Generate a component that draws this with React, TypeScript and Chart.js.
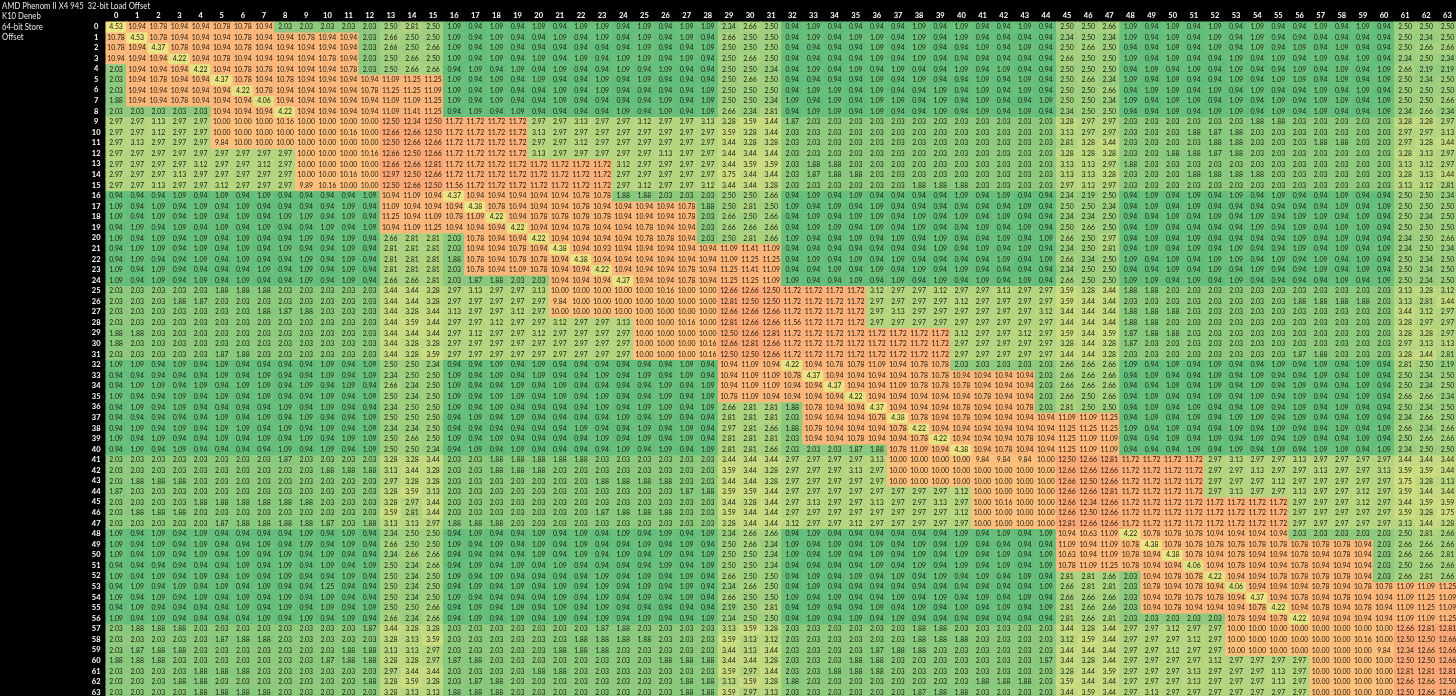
import React, { useEffect, useRef } from "react";
import { Chart, registerables } from "chart.js";

Chart.register(...registerables);

const headerLines = ["AMD Phenom II X4 945  32-bit Load Offset", "K10 Deneb", "64-bit Store", "Offset"];

const r0 = [4.53,10.94,10.78,10.94,10.94,10.78,10.78,10.94,2.03,2.03,2.03,2.03,2.03,2.50,2.81,2.50,1.09,0.94,1.09,0.94,1.09,0.94,1.09,1.09,0.94,1.09,0.94,1.09,1.09,2.34,2.66,2.50,0.94,1.09,0.94,0.94,0.94,0.94,1.09,0.94,1.09,0.94,0.94,1.09,0.94,2.50,2.50,2.66,1.09,0.94,1.09,0.94,1.09,0.94,1.09,0.94,0.94,1.09,0.94,1.09,0.94,2.50,2.50,2.50];
const r1 = [10.78,4.53,10.78,10.94,10.94,10.94,10.78,10.94,10.94,10.78,10.94,10.94,2.03,2.66,2.50,2.50,1.09,0.94,1.09,0.94,0.94,1.09,0.94,1.09,0.94,1.09,0.94,1.09,0.94,2.66,2.50,2.50,0.94,1.09,0.94,1.09,1.09,0.94,1.09,0.94,1.09,0.94,0.94,0.94,0.94,2.34,2.50,2.34,1.09,0.94,1.09,0.94,1.09,0.94,1.09,0.94,0.94,0.94,0.94,0.94,0.94,2.50,2.34,2.50];
const r2 = [10.78,10.94,4.37,10.78,10.94,10.94,10.78,10.94,10.94,10.94,10.94,10.94,2.03,2.66,2.50,2.66,1.09,0.94,1.09,0.94,0.94,0.94,0.94,0.94,0.94,1.09,0.94,0.94,1.09,2.50,2.50,2.50,0.94,0.94,0.94,0.94,1.09,0.94,1.09,0.94,0.94,1.09,0.94,1.09,0.94,2.50,2.66,2.50,0.94,0.94,1.09,0.94,1.09,0.94,1.09,0.94,1.09,0.94,1.09,0.94,0.94,2.50,2.66,2.66];
const r3 = [10.94,10.94,10.94,4.22,10.94,10.78,10.94,10.94,10.94,10.94,10.78,10.94,2.03,2.50,2.66,2.50,1.09,0.94,1.09,0.94,1.09,0.94,1.09,0.94,1.09,1.09,0.94,1.09,0.94,2.50,2.66,2.50,0.94,0.94,0.94,0.94,1.09,0.94,1.09,0.94,0.94,0.94,0.94,0.94,0.94,2.66,2.50,2.50,1.09,0.94,1.09,0.94,0.94,1.09,0.94,1.09,0.94,1.09,0.94,1.09,0.94,2.34,2.50,2.34];
const r4 = [2.03,10.94,10.94,10.94,4.22,10.94,10.78,10.78,10.94,10.94,10.94,10.78,2.03,2.50,2.66,2.66,0.94,1.09,0.94,1.09,0.94,1.09,0.94,0.94,1.09,0.94,1.09,0.94,0.94,2.50,2.50,2.34,0.94,1.09,0.94,1.09,0.94,1.09,0.94,0.94,1.09,0.94,1.09,0.94,0.94,2.50,2.50,2.50,0.94,1.09,0.94,1.09,0.94,1.09,0.94,0.94,1.09,0.94,1.09,0.94,1.09,2.66,2.19,2.19];
const r5 = [2.03,10.94,10.78,10.94,10.94,4.37,10.78,10.94,10.78,10.94,10.94,10.94,10.94,11.09,11.25,11.25,1.09,0.94,1.09,0.94,1.09,0.94,0.94,1.09,0.94,1.09,0.94,0.94,0.94,2.50,2.66,2.50,0.94,0.94,0.94,0.94,1.09,0.94,1.09,0.94,0.94,1.09,0.94,1.09,0.94,2.50,2.66,2.34,1.09,0.94,1.09,0.94,0.94,1.09,0.94,1.09,1.09,0.94,1.09,0.94,1.09,2.50,2.34,2.50];
const r6 = [2.03,10.94,10.94,10.94,10.94,10.94,4.22,10.78,10.94,10.94,10.94,10.94,10.78,11.25,11.25,11.09,1.09,0.94,1.09,0.94,0.94,1.09,0.94,1.09,0.94,0.94,0.94,0.94,1.09,2.50,2.50,2.50,0.94,1.09,1.09,0.94,1.09,0.94,0.94,1.09,0.94,1.09,0.94,1.09,0.94,2.50,2.50,2.66,0.94,1.09,1.09,0.94,1.09,0.94,1.09,0.94,0.94,1.09,0.94,1.09,0.94,2.50,2.50,2.50];
const r7 = [1.88,10.94,10.94,10.78,10.94,10.94,10.94,4.06,10.94,10.94,10.94,10.94,10.94,11.09,11.09,11.25,1.09,0.94,1.09,0.94,0.94,1.09,0.94,0.94,0.94,0.94,1.09,0.94,1.09,2.50,2.50,2.34,1.09,0.94,1.09,0.94,1.09,1.09,0.94,1.09,0.94,1.09,0.94,0.94,1.09,2.50,2.50,2.34,1.09,0.94,1.09,1.09,0.94,1.09,0.94,1.09,0.94,1.09,1.09,0.94,1.09,2.50,2.50,2.66];
const r8 = [2.03,2.03,2.03,2.03,2.03,10.94,10.94,10.94,4.22,10.94,10.94,10.94,10.94,11.09,11.41,11.25,0.94,1.09,0.94,1.09,0.94,0.94,0.94,0.94,1.09,0.94,1.09,0.94,1.09,2.66,2.34,2.81,0.94,1.09,1.09,0.94,1.09,0.94,0.94,1.09,0.94,1.09,0.94,1.09,0.94,2.34,2.50,2.50,0.94,0.94,1.09,0.94,1.09,1.09,0.94,1.09,0.94,1.09,0.94,0.94,1.09,2.34,2.66,2.34];
const r9 = [2.97,2.97,3.13,2.97,2.97,10.00,10.00,10.00,10.16,10.00,10.00,10.00,10.00,12.50,12.34,12.50,11.72,11.72,11.72,11.72,2.97,2.97,3.13,2.97,2.97,3.12,2.97,2.97,3.13,3.28,3.59,3.44,1.87,2.03,2.03,2.03,2.03,2.03,2.03,2.03,2.03,2.03,2.03,2.03,2.03,3.28,2.97,2.97,2.03,2.03,2.03,2.03,2.03,2.03,1.88,1.88,2.03,2.03,2.03,2.03,2.03,3.28,3.28,2.97];
const r10 = [2.97,2.97,3.12,2.97,2.97,10.00,10.00,10.00,10.00,10.00,10.00,10.16,10.00,12.66,12.66,12.50,11.72,11.72,11.72,11.72,3.13,2.97,2.97,2.97,2.97,2.97,2.97,2.97,2.97,3.59,3.28,3.44,2.03,2.03,2.03,2.03,2.03,2.03,2.03,2.03,2.03,2.03,2.03,2.03,2.03,3.13,2.97,2.97,2.03,2.03,2.03,1.88,1.87,1.88,2.03,2.03,2.03,2.03,2.03,2.03,2.03,2.97,2.97,3.13];
const r11 = [2.97,3.13,2.97,2.97,2.97,9.84,10.00,10.00,10.00,10.00,10.00,10.00,10.00,12.50,12.66,12.66,11.72,11.72,11.72,11.72,2.97,2.97,3.12,2.97,2.97,2.97,2.97,2.97,2.97,3.44,3.28,3.28,2.03,2.03,2.03,2.03,2.03,2.03,2.03,2.03,2.03,2.03,2.03,2.03,2.03,2.81,3.28,3.44,2.03,2.03,2.03,2.03,1.88,1.88,2.03,2.03,2.03,1.88,1.88,2.03,2.03,2.97,3.28,3.44];
const r12 = [2.97,2.97,2.97,2.97,2.97,2.97,2.97,2.97,2.97,10.00,10.00,10.00,10.16,12.66,12.50,12.66,11.72,11.72,11.72,11.72,3.13,2.97,2.97,2.97,2.97,2.97,3.13,2.97,2.97,3.44,3.44,3.44,2.03,2.03,2.03,2.03,2.03,2.03,2.03,2.03,2.03,2.03,2.03,2.03,2.03,3.28,3.28,3.28,2.03,2.03,1.88,1.88,1.87,1.88,2.03,2.03,2.03,2.03,2.03,2.03,2.03,3.28,3.13,2.97];
const r13 = [2.97,2.97,2.97,2.97,3.12,2.97,2.97,3.12,2.97,10.00,10.00,10.00,10.00,12.66,12.66,12.81,11.72,11.72,11.72,11.72,11.72,11.72,11.72,11.72,3.12,2.97,2.97,2.97,2.97,3.44,3.59,3.59,2.03,1.88,1.88,2.03,2.03,2.03,2.03,2.03,2.03,2.03,2.03,2.03,2.03,3.13,3.13,2.97,1.88,2.03,2.03,2.03,2.03,2.03,2.03,2.03,2.03,2.03,2.03,2.03,2.03,3.13,3.12,2.97];
const r14 = [2.97,2.97,2.97,3.13,2.97,2.97,2.97,2.97,2.97,10.00,10.00,10.16,10.00,12.97,12.50,12.66,11.72,11.72,11.72,11.72,11.72,11.72,11.72,11.72,2.97,2.97,2.97,2.97,2.97,3.75,3.44,3.44,2.03,1.87,1.88,1.88,2.03,2.03,2.03,2.03,2.03,2.03,2.03,2.03,2.03,3.13,3.13,3.28,2.03,2.03,2.03,1.88,1.88,1.88,1.88,2.03,2.03,2.03,2.03,2.03,2.03,3.28,3.13,3.44];
const r15 = [2.97,2.97,3.13,2.97,2.97,3.12,2.97,2.97,2.97,9.89,10.16,10.00,10.00,12.50,12.66,12.50,11.56,11.72,11.72,11.72,11.72,11.72,11.72,11.72,2.97,3.12,2.97,2.97,3.12,3.44,3.44,3.28,2.03,2.03,2.03,2.03,2.03,2.03,1.88,1.88,1.88,2.03,2.03,2.03,2.03,2.97,3.13,2.97,2.03,2.03,2.03,2.03,2.03,2.03,2.03,2.03,2.03,2.03,2.03,2.03,2.03,3.13,3.12,2.81];
const r16 = [0.94,0.94,0.94,1.09,0.94,1.09,0.94,1.09,0.94,0.94,0.94,0.94,1.09,10.94,11.09,10.94,4.37,10.94,10.94,10.94,10.94,10.94,10.78,10.78,1.88,1.88,2.03,2.03,2.03,2.50,2.50,2.66,0.94,1.09,0.94,1.09,0.94,0.94,0.94,0.94,1.09,0.94,1.09,0.94,0.94,2.34,2.19,2.50,0.94,1.09,0.94,1.09,0.94,1.09,0.94,1.09,0.94,0.94,1.09,0.94,0.94,2.50,2.50,2.34];
const r17 = [1.09,0.94,1.09,0.94,1.09,0.94,1.09,0.94,0.94,0.94,0.94,1.09,0.94,11.09,10.94,10.94,10.94,4.38,10.78,10.94,10.94,10.94,10.78,10.94,10.94,10.94,10.94,10.78,1.88,2.50,2.81,2.50,1.09,0.94,1.09,0.94,1.09,0.94,0.94,0.94,0.94,0.94,0.94,1.09,0.94,2.50,2.50,2.34,0.94,1.09,0.94,1.09,0.94,0.94,0.94,0.94,0.94,0.94,1.09,0.94,1.09,2.50,2.50,2.50];
const r18 = [1.09,0.94,1.09,0.94,1.09,0.94,1.09,0.94,1.09,1.09,0.94,1.09,0.94,11.25,10.94,11.09,10.78,11.09,4.22,10.94,10.78,10.78,10.78,10.78,10.94,10.94,10.94,10.78,2.03,2.66,2.50,2.66,0.94,1.09,0.94,1.09,1.09,0.94,1.09,0.94,1.09,0.94,1.09,0.94,0.94,2.34,2.34,2.50,0.94,0.94,1.09,0.94,1.09,0.94,1.09,0.94,1.09,1.09,0.94,1.09,0.94,2.50,2.34,2.50];
const r19 = [0.94,1.09,0.94,1.09,0.94,1.09,0.94,1.09,0.94,0.94,1.09,0.94,1.09,10.94,11.09,11.25,10.94,10.94,10.94,4.22,10.94,10.94,10.78,10.94,10.94,10.78,10.94,10.94,2.03,2.66,2.66,2.66,0.94,1.09,1.09,0.94,1.09,0.94,1.09,0.94,0.94,1.09,0.94,1.09,0.94,2.50,2.66,2.50,0.94,1.09,0.94,0.94,0.94,0.94,1.09,0.94,1.09,0.94,1.09,1.09,0.94,2.50,2.50,2.50];
const r20 = [1.09,0.94,1.09,0.94,1.09,0.94,1.09,0.94,0.94,1.09,0.94,1.09,0.94,2.66,2.81,2.81,2.03,10.78,10.94,10.94,4.22,10.94,10.94,10.94,10.94,10.78,10.78,10.94,2.03,2.50,2.81,2.66,1.09,0.94,0.94,1.09,0.94,1.09,0.94,1.09,0.94,0.94,1.09,0.94,1.09,2.66,2.50,2.97,0.94,1.09,0.94,1.09,0.94,0.94,0.94,0.94,1.09,0.94,1.09,0.94,0.94,2.34,2.50,2.66];
const r21 = [0.94,1.09,1.09,0.94,1.09,0.94,1.09,0.94,1.09,0.94,0.94,1.09,0.94,2.81,2.81,2.81,2.03,10.94,10.94,10.78,10.94,4.38,10.94,10.93,10.94,10.94,10.94,10.94,10.94,11.09,11.41,11.09,0.94,0.94,0.94,0.94,0.94,0.94,0.94,1.09,0.94,1.09,0.94,1.09,0.94,2.34,2.50,2.81,0.94,1.09,0.94,1.09,0.94,1.09,0.94,0.94,1.09,0.94,1.09,0.94,1.09,2.34,2.50,2.34];
const r22 = [0.94,1.09,0.94,0.94,1.09,0.94,1.09,0.94,0.94,1.09,0.94,1.09,0.94,2.81,2.81,2.81,1.88,10.78,10.94,10.78,10.78,10.94,4.38,10.94,10.94,10.94,10.94,10.94,10.94,11.09,11.25,11.25,0.94,1.09,0.94,1.09,0.94,1.09,0.94,0.94,0.94,0.94,1.09,0.94,1.09,2.66,2.34,2.50,1.09,0.94,1.09,0.94,1.09,1.09,0.94,1.09,0.94,1.09,0.94,1.09,0.94,2.50,2.34,2.50];
const r23 = [1.09,0.94,1.09,0.94,0.94,0.94,0.94,1.09,0.94,1.09,0.94,1.09,0.94,2.81,2.81,2.81,2.03,10.78,10.94,11.09,10.78,10.94,10.94,4.22,10.94,10.94,10.94,10.78,10.94,11.25,11.41,11.09,0.94,0.94,1.09,0.94,1.09,0.94,1.09,0.94,1.09,0.94,0.94,0.94,0.94,2.34,2.50,2.50,0.94,0.94,1.09,0.94,1.09,0.94,1.09,0.94,0.94,1.09,0.94,1.09,0.94,2.50,2.34,2.50];
const r24 = [1.09,0.94,1.09,0.94,1.09,0.94,1.09,0.94,0.94,1.09,0.94,1.09,0.94,2.66,2.66,2.81,2.03,1.87,1.88,2.03,2.03,10.94,10.94,10.94,4.37,10.94,10.94,10.78,10.94,11.25,11.25,11.09,1.09,0.94,0.94,1.09,0.94,1.09,0.94,1.09,0.94,1.09,0.94,1.09,0.94,2.66,2.50,2.50,1.09,1.09,0.94,1.09,0.94,1.09,0.94,0.94,0.94,0.94,1.09,0.94,1.09,2.50,2.34,2.50];
const r25 = [2.03,2.03,2.03,2.03,2.03,1.88,1.88,1.88,2.03,2.03,2.03,2.03,2.03,3.44,3.44,3.28,2.97,3.13,2.97,2.97,3.13,10.00,10.00,10.00,10.00,10.00,10.16,10.00,10.00,12.66,12.66,12.50,11.72,11.72,11.72,11.72,3.12,2.97,2.97,3.12,2.97,2.97,3.13,2.97,2.97,3.59,3.28,3.44,1.88,1.88,2.03,2.03,2.03,2.03,2.03,2.03,2.03,2.03,2.03,2.03,2.03,3.13,3.28,3.12];
const r26 = [2.03,2.03,2.03,1.88,1.87,2.03,2.03,2.03,2.03,2.03,2.03,2.03,2.03,3.44,3.44,3.28,2.97,2.97,2.97,2.97,2.97,9.84,10.00,10.00,10.00,10.00,10.00,10.00,10.00,12.81,12.50,12.50,11.72,11.72,11.72,11.72,2.97,2.97,2.97,2.97,3.12,2.97,2.97,2.97,2.97,3.59,3.44,3.44,2.03,2.03,2.03,2.03,2.03,2.03,2.03,2.03,1.88,1.88,1.88,1.88,2.03,3.13,2.81,3.44];
const r27 = [2.03,2.03,2.03,2.03,2.03,2.03,2.03,1.88,1.87,1.88,2.03,2.03,2.03,3.44,3.28,3.44,3.13,2.97,2.97,3.12,2.97,10.00,10.00,10.00,10.00,10.00,10.00,10.00,10.00,12.66,12.66,12.66,11.72,11.72,11.72,11.72,2.97,3.13,2.97,2.97,2.97,2.97,2.97,2.97,3.12,3.44,3.44,3.44,1.88,1.88,1.88,2.03,2.03,2.03,2.03,2.03,2.03,2.03,2.03,2.03,2.03,3.44,3.12,2.97];
const r28 = [2.03,2.03,2.03,2.03,2.03,2.03,2.03,2.03,2.03,2.03,2.03,2.03,2.03,3.44,3.59,3.44,2.97,2.97,3.12,2.97,2.97,3.12,2.97,2.97,3.13,10.00,10.00,10.16,10.00,12.81,12.66,12.66,11.56,11.72,11.72,11.72,2.97,2.97,2.97,2.97,2.97,2.97,2.97,2.97,2.97,3.44,3.44,3.44,1.88,1.88,2.03,2.03,2.03,2.03,2.03,2.03,2.03,2.03,2.03,2.03,2.03,3.28,2.97,2.97];
const r29 = [1.88,1.88,2.03,2.03,2.03,2.03,2.03,2.03,2.03,2.03,2.03,2.03,2.03,3.44,3.44,3.44,2.97,3.12,2.97,2.97,3.12,2.97,2.97,2.97,2.97,10.00,10.00,10.00,10.00,12.50,12.66,12.81,11.72,11.72,11.72,11.72,11.72,11.72,11.72,11.72,3.12,2.97,2.97,3.12,2.97,3.59,3.44,3.59,1.87,1.88,1.88,2.03,2.03,2.03,2.03,2.03,2.03,2.03,2.03,2.03,2.03,3.28,3.28,2.97];
const r30 = [1.88,2.03,2.03,2.03,2.03,2.03,2.03,2.03,2.03,2.03,2.03,2.03,2.03,3.44,3.28,3.28,2.97,2.97,2.97,2.97,2.97,2.97,2.97,2.97,2.97,10.00,10.00,10.00,10.16,12.66,12.81,12.66,11.72,11.72,11.72,11.72,11.72,11.72,11.72,11.72,2.97,2.97,2.97,2.97,2.97,3.28,3.44,3.28,1.87,2.03,2.03,2.03,2.03,2.03,2.03,2.03,2.03,2.03,2.03,2.03,2.03,2.97,3.13,3.13];
const r31 = [2.03,2.03,2.03,2.03,2.03,1.87,1.88,2.03,2.03,2.03,2.03,2.03,2.03,3.44,3.28,3.59,2.97,2.97,2.97,2.97,2.97,2.97,2.97,2.97,2.97,10.00,10.00,10.00,10.16,12.50,12.50,12.66,11.72,11.72,11.72,11.72,11.72,11.72,11.72,11.72,2.97,2.97,2.97,2.97,2.97,3.44,3.44,3.28,2.03,2.03,2.03,2.03,2.03,2.03,2.03,2.03,1.87,1.88,2.03,2.03,2.03,3.28,3.44,2.81];
const r32 = [1.09,1.09,0.94,1.09,0.94,1.09,0.94,0.94,0.94,0.94,1.09,0.94,1.09,2.50,2.50,2.34,0.94,0.94,1.09,0.94,1.09,0.94,0.94,0.94,0.94,0.94,0.94,1.09,0.94,10.94,11.09,10.94,4.22,10.94,10.78,10.78,11.09,10.94,10.78,10.78,2.03,2.03,2.03,2.03,2.03,2.66,2.66,2.66,1.09,0.94,1.09,0.94,1.09,0.94,0.94,1.09,0.94,1.09,0.94,1.09,0.94,2.81,2.50,2.19];
const r33 = [0.94,0.94,0.94,0.94,0.94,1.09,0.94,1.09,0.94,0.94,1.09,0.94,1.09,2.34,2.50,2.50,1.09,0.94,1.09,0.94,1.09,0.94,0.94,1.09,0.94,1.09,0.94,1.09,0.94,10.94,11.09,11.09,10.78,4.37,10.94,10.94,10.94,10.94,10.78,10.78,10.94,10.94,10.94,10.94,2.03,2.66,2.66,2.66,0.94,1.09,0.94,0.94,1.09,0.94,1.09,0.94,0.94,1.09,0.94,1.09,0.94,2.50,2.34,2.50];
const r34 = [0.94,1.09,1.09,0.94,1.09,0.94,1.09,1.09,0.94,1.09,0.94,1.09,0.94,2.66,2.34,2.50,1.09,0.94,0.94,1.09,0.94,1.09,0.94,0.94,0.94,0.94,1.09,0.94,1.09,10.94,11.09,11.09,10.94,10.94,4.37,10.94,10.94,11.09,10.78,10.78,10.78,10.94,10.94,10.94,2.03,2.66,2.66,2.66,0.94,0.94,1.09,0.94,1.09,0.94,1.09,0.94,1.09,0.94,0.94,1.09,0.94,2.50,2.34,2.50];
const r35 = [1.09,0.94,0.94,1.09,0.94,1.09,0.94,1.09,0.94,0.94,1.09,0.94,1.09,2.50,2.34,2.50,1.09,0.94,1.09,1.09,0.94,1.09,0.94,1.09,0.94,0.94,1.09,0.94,1.09,10.78,11.09,10.94,10.94,10.94,10.94,4.22,10.94,10.94,10.94,10.94,10.94,10.78,10.94,10.94,2.03,2.66,2.50,2.66,0.94,1.09,0.94,0.94,1.09,0.94,1.09,0.94,1.09,0.94,0.94,1.09,0.94,2.66,2.66,2.34];
const r36 = [0.94,1.09,0.94,1.09,0.94,0.94,0.94,0.94,1.09,0.94,1.09,0.94,0.94,2.34,2.50,2.50,1.09,0.94,1.09,0.94,0.94,0.94,0.94,1.09,0.94,1.09,1.09,0.94,1.09,2.66,2.81,2.81,1.88,10.78,10.94,10.94,4.37,10.94,10.94,10.94,10.78,10.94,10.94,10.78,2.03,2.81,2.50,2.50,0.94,1.09,0.94,1.09,0.94,0.94,1.09,0.94,1.09,0.94,1.09,0.94,0.94,2.50,2.34,2.50];
const r37 = [0.94,0.94,0.94,0.94,0.94,1.09,0.94,1.09,0.94,1.09,0.94,0.94,1.09,2.50,2.50,2.50,0.94,1.09,0.94,1.09,0.94,0.94,0.94,0.94,1.09,0.94,1.09,0.94,0.94,2.81,2.81,2.81,2.03,10.94,10.94,10.94,10.78,4.38,10.78,10.94,10.78,10.94,10.94,10.94,10.94,11.09,11.09,11.25,0.94,1.09,0.94,1.09,0.94,1.09,1.09,0.94,1.09,0.94,0.94,1.09,0.94,2.34,2.66,2.50];
const r38 = [0.94,1.09,0.94,1.09,0.94,1.09,1.09,0.94,1.09,0.94,1.09,0.94,1.09,2.34,2.34,2.50,0.94,0.94,0.94,0.94,0.94,0.94,1.09,0.94,0.94,1.09,0.94,1.09,0.94,2.97,2.81,2.66,1.88,10.78,10.94,10.94,10.94,10.78,4.22,10.94,10.94,10.94,10.94,10.94,10.94,11.25,11.25,11.25,1.09,0.94,1.09,0.94,0.94,1.09,0.94,1.09,0.94,0.94,1.09,0.94,1.09,2.66,2.34,2.66];
const r39 = [1.09,0.94,1.09,0.94,0.94,1.09,0.94,1.09,0.94,1.09,0.94,1.09,1.09,2.50,2.66,2.50,1.09,0.94,1.09,0.94,0.94,0.94,0.94,1.09,0.94,1.09,0.94,1.09,0.94,2.81,2.81,2.81,2.03,10.94,10.94,10.78,10.94,10.94,10.78,4.22,10.94,10.94,10.94,10.78,10.94,11.25,11.09,11.09,0.94,0.94,1.09,0.94,1.09,0.94,1.09,0.94,1.09,0.94,0.94,1.09,0.94,2.50,2.66,2.66];
const r40 = [0.94,1.09,0.94,1.09,0.94,0.94,0.94,0.94,1.09,0.94,1.09,0.94,1.09,2.50,2.50,2.34,0.94,1.09,0.94,1.09,0.94,0.94,0.94,0.94,1.09,0.94,1.09,0.94,1.09,2.81,2.81,2.66,2.03,2.03,2.03,1.87,1.88,10.78,11.09,10.94,4.38,10.94,10.78,10.94,10.94,11.25,11.09,11.09,0.94,0.94,0.94,1.09,0.94,1.09,0.94,1.09,0.94,1.09,1.09,0.94,1.09,2.34,2.50,2.50];
const r41 = [2.03,2.03,2.03,2.03,2.03,2.03,2.03,2.03,1.87,2.03,2.03,2.03,2.03,3.28,3.28,3.44,2.03,2.03,1.88,1.88,1.88,1.88,1.88,2.03,2.03,2.03,2.03,2.03,2.03,3.44,3.44,3.44,2.97,2.97,2.97,2.97,3.13,10.00,10.00,10.00,10.00,9.84,9.84,9.84,10.00,12.50,12.66,12.81,11.72,11.72,11.72,11.72,2.97,3.13,2.97,2.97,3.13,2.97,2.97,2.97,2.97,3.44,3.44,3.44];
const r42 = [2.03,2.03,2.03,2.03,2.03,2.03,2.03,2.03,2.03,2.03,1.88,1.88,1.88,3.13,3.44,3.28,2.03,2.03,1.88,1.88,1.88,2.03,2.03,2.03,2.03,2.03,2.03,2.03,2.03,3.59,3.44,3.28,2.97,2.97,2.97,3.13,2.97,10.00,10.00,10.00,10.00,10.00,10.00,10.00,10.00,12.66,12.66,12.66,11.72,11.72,11.72,11.72,2.97,2.97,3.13,2.97,2.97,3.13,2.97,2.97,3.13,3.59,3.59,3.44];
const r43 = [2.03,1.88,1.88,1.88,2.03,2.03,2.03,2.03,2.03,2.03,2.03,2.03,2.03,2.97,3.28,3.28,2.03,2.03,2.03,2.03,2.03,2.03,2.03,1.88,1.88,1.88,1.88,2.03,2.03,3.44,3.44,3.28,2.97,2.97,2.97,2.97,2.97,10.00,10.00,10.00,10.00,10.00,10.00,10.00,10.00,12.66,12.50,12.66,11.72,11.72,11.72,11.72,2.97,2.97,2.97,3.12,2.97,2.97,2.97,2.97,2.97,3.75,3.28,3.13];
const r44 = [1.87,2.03,2.03,2.03,2.03,2.03,2.03,2.03,2.03,2.03,2.03,2.03,2.03,3.28,3.59,3.13,2.03,2.03,2.03,2.03,2.03,2.03,2.03,2.03,2.03,2.03,2.03,1.87,1.88,3.59,3.59,3.44,2.97,2.97,2.97,2.97,2.97,2.97,2.97,2.97,3.12,10.00,10.00,10.00,10.00,12.66,12.66,12.81,11.72,11.72,11.72,11.72,2.97,3.13,2.97,2.97,3.13,2.97,2.97,3.12,2.97,3.59,3.44,3.44];
const r45 = [2.03,2.03,2.03,2.03,1.88,1.88,1.88,1.88,1.88,1.88,2.03,2.03,2.03,3.28,2.97,3.44,2.03,2.03,2.03,2.03,2.03,2.03,2.03,2.03,2.03,2.03,2.03,2.03,2.03,3.44,3.28,3.44,2.97,3.13,2.97,2.97,3.13,2.97,2.97,3.13,2.97,10.00,10.16,10.00,10.00,12.66,12.34,12.66,11.72,11.72,11.72,11.72,11.72,11.72,11.72,11.72,2.97,2.97,2.97,3.12,2.97,3.44,3.59,3.59];
const r46 = [2.03,1.88,1.88,1.88,2.03,2.03,2.03,2.03,2.03,2.03,2.03,2.03,2.03,3.59,2.81,3.44,2.03,2.03,2.03,2.03,2.03,2.03,2.03,1.87,1.88,1.88,1.88,2.03,2.03,3.59,3.44,3.44,2.97,2.97,2.97,2.97,2.97,2.97,2.97,2.97,3.12,10.00,10.00,10.00,10.00,12.66,12.50,12.66,11.72,11.72,11.72,11.72,11.72,11.72,11.72,11.72,2.97,2.97,2.97,2.97,2.97,3.59,3.28,3.75];
const r47 = [2.03,2.03,2.03,2.03,2.03,1.87,1.88,1.88,1.88,1.88,1.87,2.03,1.88,3.13,3.13,2.97,1.88,1.88,1.88,2.03,2.03,2.03,2.03,2.03,2.03,2.03,2.03,2.03,2.03,3.28,3.44,3.44,3.12,2.97,2.97,3.12,2.97,2.97,2.97,2.97,2.97,10.00,10.00,10.00,10.00,12.81,12.66,12.66,11.72,11.72,11.72,11.72,11.72,11.72,11.72,11.72,2.97,2.97,2.97,2.97,2.97,3.13,3.44,3.28];
const r48 = [1.09,0.94,1.09,0.94,1.09,0.94,0.94,0.94,0.94,1.09,0.94,1.09,0.94,2.34,2.50,2.50,0.94,1.09,0.94,0.94,1.09,0.94,1.09,0.94,1.09,0.94,1.09,0.94,1.09,2.34,2.66,2.66,0.94,1.09,0.94,0.94,0.94,0.94,0.94,0.94,1.09,0.94,1.09,0.94,1.09,10.94,10.63,11.09,4.22,10.78,10.78,10.78,10.94,10.94,10.94,10.94,2.03,2.03,2.03,2.03,2.03,2.50,2.81,2.66];
const r49 = [1.09,0.94,1.09,0.94,1.09,0.94,0.94,1.09,0.94,1.09,0.94,1.09,0.94,2.66,2.50,2.50,1.09,0.94,1.09,0.94,1.09,0.94,1.09,0.94,0.94,1.09,0.94,1.09,0.94,2.50,2.66,2.34,1.09,0.94,1.09,0.94,1.09,0.94,1.09,0.94,1.09,0.94,0.94,0.94,0.94,11.09,10.94,11.09,10.78,4.38,10.78,10.78,10.78,10.78,10.78,10.78,10.78,10.78,10.78,10.94,2.03,2.66,2.66,2.66];
const r50 = [1.09,0.94,1.09,0.94,1.09,0.94,1.09,0.94,1.09,0.94,1.09,0.94,0.94,2.34,2.66,2.66,0.94,0.94,0.94,0.94,1.09,0.94,1.09,0.94,1.09,0.94,1.09,0.94,1.09,2.50,2.50,2.34,1.09,0.94,1.09,0.94,1.09,0.94,1.09,0.94,1.09,0.94,1.09,0.94,1.09,10.63,10.94,11.09,10.78,10.94,4.38,10.78,10.94,10.78,10.94,10.94,10.78,10.94,10.78,10.94,2.03,2.66,2.66,2.81];
const r51 = [0.94,0.94,0.94,0.94,0.94,0.94,1.09,0.94,1.09,0.94,1.09,0.94,1.09,2.50,2.34,2.66,0.94,1.09,0.94,1.09,0.94,1.09,0.94,0.94,0.94,0.94,1.09,0.94,1.09,2.50,2.50,2.34,0.94,0.94,0.94,0.94,1.09,0.94,1.09,0.94,1.09,0.94,1.09,0.94,1.09,10.78,11.09,11.25,10.78,10.94,10.94,4.06,10.94,10.78,10.94,10.94,10.78,10.94,10.94,10.94,2.03,2.50,2.66,2.66];
const r52 = [1.09,0.94,1.09,0.94,1.09,0.94,1.09,0.94,1.09,0.94,0.94,1.09,0.94,2.50,2.34,2.50,1.09,0.94,1.09,0.94,0.94,0.94,0.94,1.09,0.94,1.09,0.94,1.09,0.94,2.66,2.50,2.50,0.94,1.09,0.94,1.09,0.94,1.09,0.94,1.09,0.94,1.09,0.94,1.09,0.94,2.81,2.81,2.66,2.03,10.94,10.78,10.78,4.22,10.94,10.94,10.78,10.78,10.78,10.78,10.94,2.03,2.66,2.81,2.66];
const r53 = [0.94,1.09,0.94,1.09,0.94,1.09,0.94,1.09,0.94,0.94,1.25,0.94,0.94,2.50,2.34,2.50,0.94,1.09,0.94,1.09,0.94,1.09,0.94,1.09,0.94,1.09,0.94,1.09,0.94,2.34,2.66,2.50,0.94,1.09,0.94,0.94,0.94,0.94,0.94,0.94,0.94,0.94,0.94,0.94,1.09,2.66,2.81,2.81,2.03,10.78,10.94,10.78,10.94,4.06,10.94,10.94,10.94,10.78,10.94,10.78,10.78,11.09,11.09,11.25];
const r54 = [1.09,0.94,1.09,0.94,1.09,0.94,1.09,0.94,1.09,0.94,1.09,0.94,0.94,2.50,2.34,2.50,1.09,0.94,0.94,0.94,0.94,1.09,0.94,1.09,0.94,1.09,0.94,1.09,0.94,2.66,2.50,2.50,1.09,0.94,1.09,0.94,0.94,1.09,0.94,1.09,0.94,1.09,0.94,1.09,0.94,2.66,2.66,2.66,2.03,10.94,10.78,10.78,10.78,10.94,4.37,10.94,10.78,10.94,10.78,10.94,10.94,11.09,11.25,11.09];
const r55 = [0.94,1.09,0.94,0.94,0.94,0.94,1.09,0.94,1.09,0.94,1.09,0.94,1.09,2.50,2.50,2.66,0.94,1.09,0.94,1.09,0.94,1.09,0.94,1.09,0.94,0.94,0.94,0.94,0.94,2.19,2.50,2.81,0.94,1.09,0.94,0.94,1.09,0.94,1.09,0.94,1.09,0.94,1.09,0.94,1.09,2.81,2.66,2.66,2.03,10.94,10.78,10.94,10.94,10.94,10.78,4.22,10.94,10.78,10.94,10.78,10.94,11.09,11.25,11.09];
const r56 = [1.09,0.94,1.09,0.94,0.94,0.94,0.94,1.09,0.94,1.09,0.94,1.09,0.94,2.66,2.34,2.66,0.94,1.09,0.94,1.09,0.94,1.09,0.94,1.09,0.94,1.09,0.94,0.94,1.09,2.34,2.50,2.50,0.94,1.09,0.94,1.09,0.94,1.09,0.94,0.94,0.94,0.94,0.94,0.94,0.94,2.81,2.66,2.81,2.03,2.03,2.03,2.03,2.03,10.78,10.94,10.78,4.22,10.94,10.94,10.94,10.94,11.09,11.09,11.25];
const r57 = [2.03,1.88,1.88,1.88,2.03,2.03,2.03,2.03,2.03,2.03,2.03,2.03,1.87,3.44,3.28,3.28,2.03,2.03,2.03,2.03,2.03,2.03,2.03,1.87,1.88,2.03,2.03,2.03,2.03,3.13,3.59,3.28,2.03,2.03,2.03,2.03,2.03,2.03,1.88,1.88,2.03,2.03,2.03,2.03,2.03,3.44,3.28,3.44,2.97,2.97,3.12,2.97,2.97,10.00,10.00,10.00,10.00,10.00,10.00,10.00,10.00,12.66,12.81,12.81];
const r58 = [2.03,2.03,2.03,2.03,2.03,1.87,1.88,1.88,2.03,2.03,2.03,2.03,2.03,3.28,3.13,3.59,2.03,2.03,2.03,2.03,2.03,2.03,1.88,1.88,1.88,1.88,2.03,2.03,2.03,3.59,3.13,3.12,2.03,2.03,2.03,2.03,2.03,2.03,1.88,1.88,1.88,2.03,2.03,2.03,2.03,3.12,3.59,3.44,2.97,2.97,2.97,3.12,2.97,10.00,10.00,10.00,10.00,10.00,10.00,10.16,10.00,12.50,12.50,12.66];
const r59 = [2.03,1.87,1.88,1.88,2.03,2.03,2.03,2.03,2.03,2.03,2.03,1.88,1.88,3.13,3.13,2.97,2.03,2.03,2.03,2.03,2.03,1.88,1.88,1.88,2.03,2.03,2.03,2.03,2.03,3.44,3.13,3.44,2.03,2.03,2.03,2.03,1.87,1.88,1.88,2.03,2.03,2.03,2.03,2.03,2.03,3.44,3.44,3.44,2.97,2.97,3.12,2.97,2.97,10.00,10.00,10.00,10.00,10.00,10.00,10.00,9.84,12.34,12.66,12.66];
const r60 = [1.88,1.88,1.88,2.03,2.03,2.03,2.03,2.03,2.03,2.03,1.87,1.88,1.88,3.28,3.28,2.97,1.87,1.88,2.03,2.03,2.03,2.03,2.03,2.03,2.03,2.03,1.88,1.88,1.88,3.44,3.44,3.28,2.03,2.03,2.03,1.88,1.88,2.03,2.03,2.03,2.03,2.03,2.03,2.03,1.87,3.44,3.28,3.44,2.97,2.97,2.97,2.97,3.12,2.97,2.97,2.97,2.97,10.00,10.00,10.00,10.00,12.50,12.50,12.66];
const r61 = [2.03,2.03,2.03,2.03,1.88,1.88,1.88,2.03,2.03,2.03,2.03,2.03,2.03,2.97,3.44,3.44,2.03,2.03,2.03,2.03,1.88,1.88,2.03,2.03,2.03,2.03,2.03,2.03,2.03,3.59,2.97,3.44,2.03,2.03,1.88,1.88,1.88,2.03,2.03,2.03,2.03,2.03,2.03,2.03,2.03,3.28,3.44,3.59,2.97,2.97,2.97,3.13,2.97,2.97,2.97,3.13,2.97,10.00,10.00,10.00,10.00,12.81,12.81,12.81];
const r62 = [2.03,2.03,2.03,1.88,1.88,2.03,2.03,2.03,2.03,2.03,2.03,2.03,1.88,3.28,3.59,3.28,2.03,1.87,1.88,2.03,2.03,2.03,2.03,2.03,2.03,2.03,2.03,1.88,1.88,3.13,3.59,3.28,1.88,2.03,2.03,2.03,2.03,2.03,2.03,2.03,2.03,1.88,1.88,1.88,2.03,3.59,3.44,3.44,2.97,2.97,2.97,3.13,2.97,2.97,2.97,3.13,2.97,10.00,10.00,10.00,10.00,12.66,12.66,12.50];
const r63 = [2.03,2.03,2.03,2.03,1.88,1.88,1.88,1.88,2.03,2.03,2.03,2.03,2.03,3.28,3.13,3.13,1.88,1.88,1.88,2.03,2.03,2.03,2.03,2.03,2.03,2.03,2.03,1.88,1.88,3.59,2.97,3.13,2.03,2.03,2.03,2.03,2.03,2.03,1.87,1.88,1.88,2.03,2.03,2.03,2.03,3.44,3.59,3.44,2.97,3.13,2.97,2.97,2.97,2.97,2.97,2.97,2.97,10.00,10.00,10.00,10.00,12.50,12.66,12.66];

const rows: number[][] = [r0,r1,r2,r3,r4,r5,r6,r7,r8,r9,r10,r11,r12,r13,r14,r15,r16,r17,r18,r19,r20,r21,r22,r23,r24,r25,r26,r27,r28,r29,r30,r31,r32,r33,r34,r35,r36,r37,r38,r39,r40,r41,r42,r43,r44,r45,r46,r47,r48,r49,r50,r51,r52,r53,r54,r55,r56,r57,r58,r59,r60,r61,r62,r63];
const offsetLabels = rows.map((_, i) => String(i));

const FONT = "Lato";
const COLOR_LOW = [99, 190, 123];
const COLOR_MID = [255, 235, 132];
const COLOR_HIGH = [248, 105, 107];
const SCALE_LOW = 0.94;
const SCALE_MID = 4.9;
const SCALE_HIGH = 20;
const TEXT_SQUEEZE = 0.86;

function cellColor(v: number): string {
  const a = v <= SCALE_MID ? COLOR_LOW : COLOR_MID;
  const b = v <= SCALE_MID ? COLOR_MID : COLOR_HIGH;
  const t = v <= SCALE_MID ? (v - SCALE_LOW) / (SCALE_MID - SCALE_LOW) : (v - SCALE_MID) / (SCALE_HIGH - SCALE_MID);
  const c = a.map((x, i) => Math.round(x + (b[i] - x) * t));
  return `rgb(${c[0]},${c[1]},${c[2]})`;
}

const cellLabelPlugin = {
  id: "cellLabels",
  afterDatasetsDraw(chart: any) {
    const ctx = chart.ctx;
    ctx.save();
    ctx.font = `8px ${FONT}`;
    ctx.fillStyle = "#1a1a10";
    ctx.textAlign = "center";
    ctx.textBaseline = "middle";
    ctx.scale(TEXT_SQUEEZE, 1);
    rows.forEach((row, r) => {
      const bars = chart.getDatasetMeta(r).data;
      row.forEach((v, c) => {
        const el = bars[c];
        const y = (el.y + el.base) / 2;
        ctx.fillText(v.toFixed(2), el.x / TEXT_SQUEEZE, y);
      });
    });
    ctx.restore();
  },
};

const headerPlugin = {
  id: "headerText",
  afterDraw(chart: any) {
    const ctx = chart.ctx;
    ctx.save();
    ctx.font = `9px ${FONT}`;
    ctx.fillStyle = "#e6e6e6";
    ctx.textAlign = "left";
    ctx.textBaseline = "middle";
    ctx.scale(TEXT_SQUEEZE, 1);
    headerLines.forEach((line, i) => ctx.fillText(line, 2 / TEXT_SQUEEZE, 6 + i * 10.5));
    ctx.restore();
  },
};

const blackBackground = {
  id: "blackBackground",
  beforeDraw(chart: any) {
    const { ctx, width, height } = chart;
    ctx.save();
    ctx.fillStyle = "#000";
    ctx.fillRect(0, 0, width, height);
    ctx.restore();
  },
};

export default function App() {
  const ref = useRef<HTMLCanvasElement | null>(null);
  useEffect(() => {
    document.body.style.margin = "0";
    document.body.style.background = "#000";
    const chart = new Chart(ref.current as HTMLCanvasElement, {
      type: "bar",
      data: {
        labels: offsetLabels,
        datasets: rows.map((row, r) => ({
          label: offsetLabels[r],
          data: row.map(() => [r, r + 1]),
          backgroundColor: row.map(cellColor),
          borderWidth: 0,
          inflateAmount: 0.6,
          barPercentage: 1,
          categoryPercentage: 1,
          grouped: false,
        })),
      },
      options: {
        animation: false,
        responsive: false,
        layout: { padding: 0, autoPadding: false },
        plugins: { legend: { display: false }, tooltip: { enabled: false }, title: { display: false } },
        scales: {
          x: {
            type: "category",
            position: "top",
            grid: { display: false, drawTicks: false },
            border: { display: false },
            ticks: {
              color: "#ffffff",
              font: { family: FONT, size: 7.5, weight: "bold" },
              autoSkip: false,
              maxRotation: 0,
              minRotation: 0,
              padding: 1.5,
            },
            afterFit: (s: any) => { s.height = 21.4; },
          },
          y: { type: "linear", display: false, min: 0, max: 64, reverse: true },
          rowAxis: {
            type: "category",
            labels: offsetLabels,
            position: "left",
            offset: true,
            grid: { display: false, drawTicks: false },
            border: { display: false },
            ticks: {
              color: "#ffffff",
              font: { family: FONT, size: 7.5, weight: "bold" },
              autoSkip: false,
              crossAlign: "center",
              padding: 5,
            },
            afterFit: (s: any) => { s.width = 105.5; },
          },
        },
      },
      plugins: [blackBackground, cellLabelPlugin, headerPlugin],
    } as any);
    return () => chart.destroy();
  }, []);
  return (
    <div style={{ position: "fixed", left: 0, top: 0, width: 1456, height: 696, overflow: "hidden", background: "#000" }}>
      <canvas ref={ref} width={1458} height={707} style={{ display: "block" }} />
    </div>
  );
}
